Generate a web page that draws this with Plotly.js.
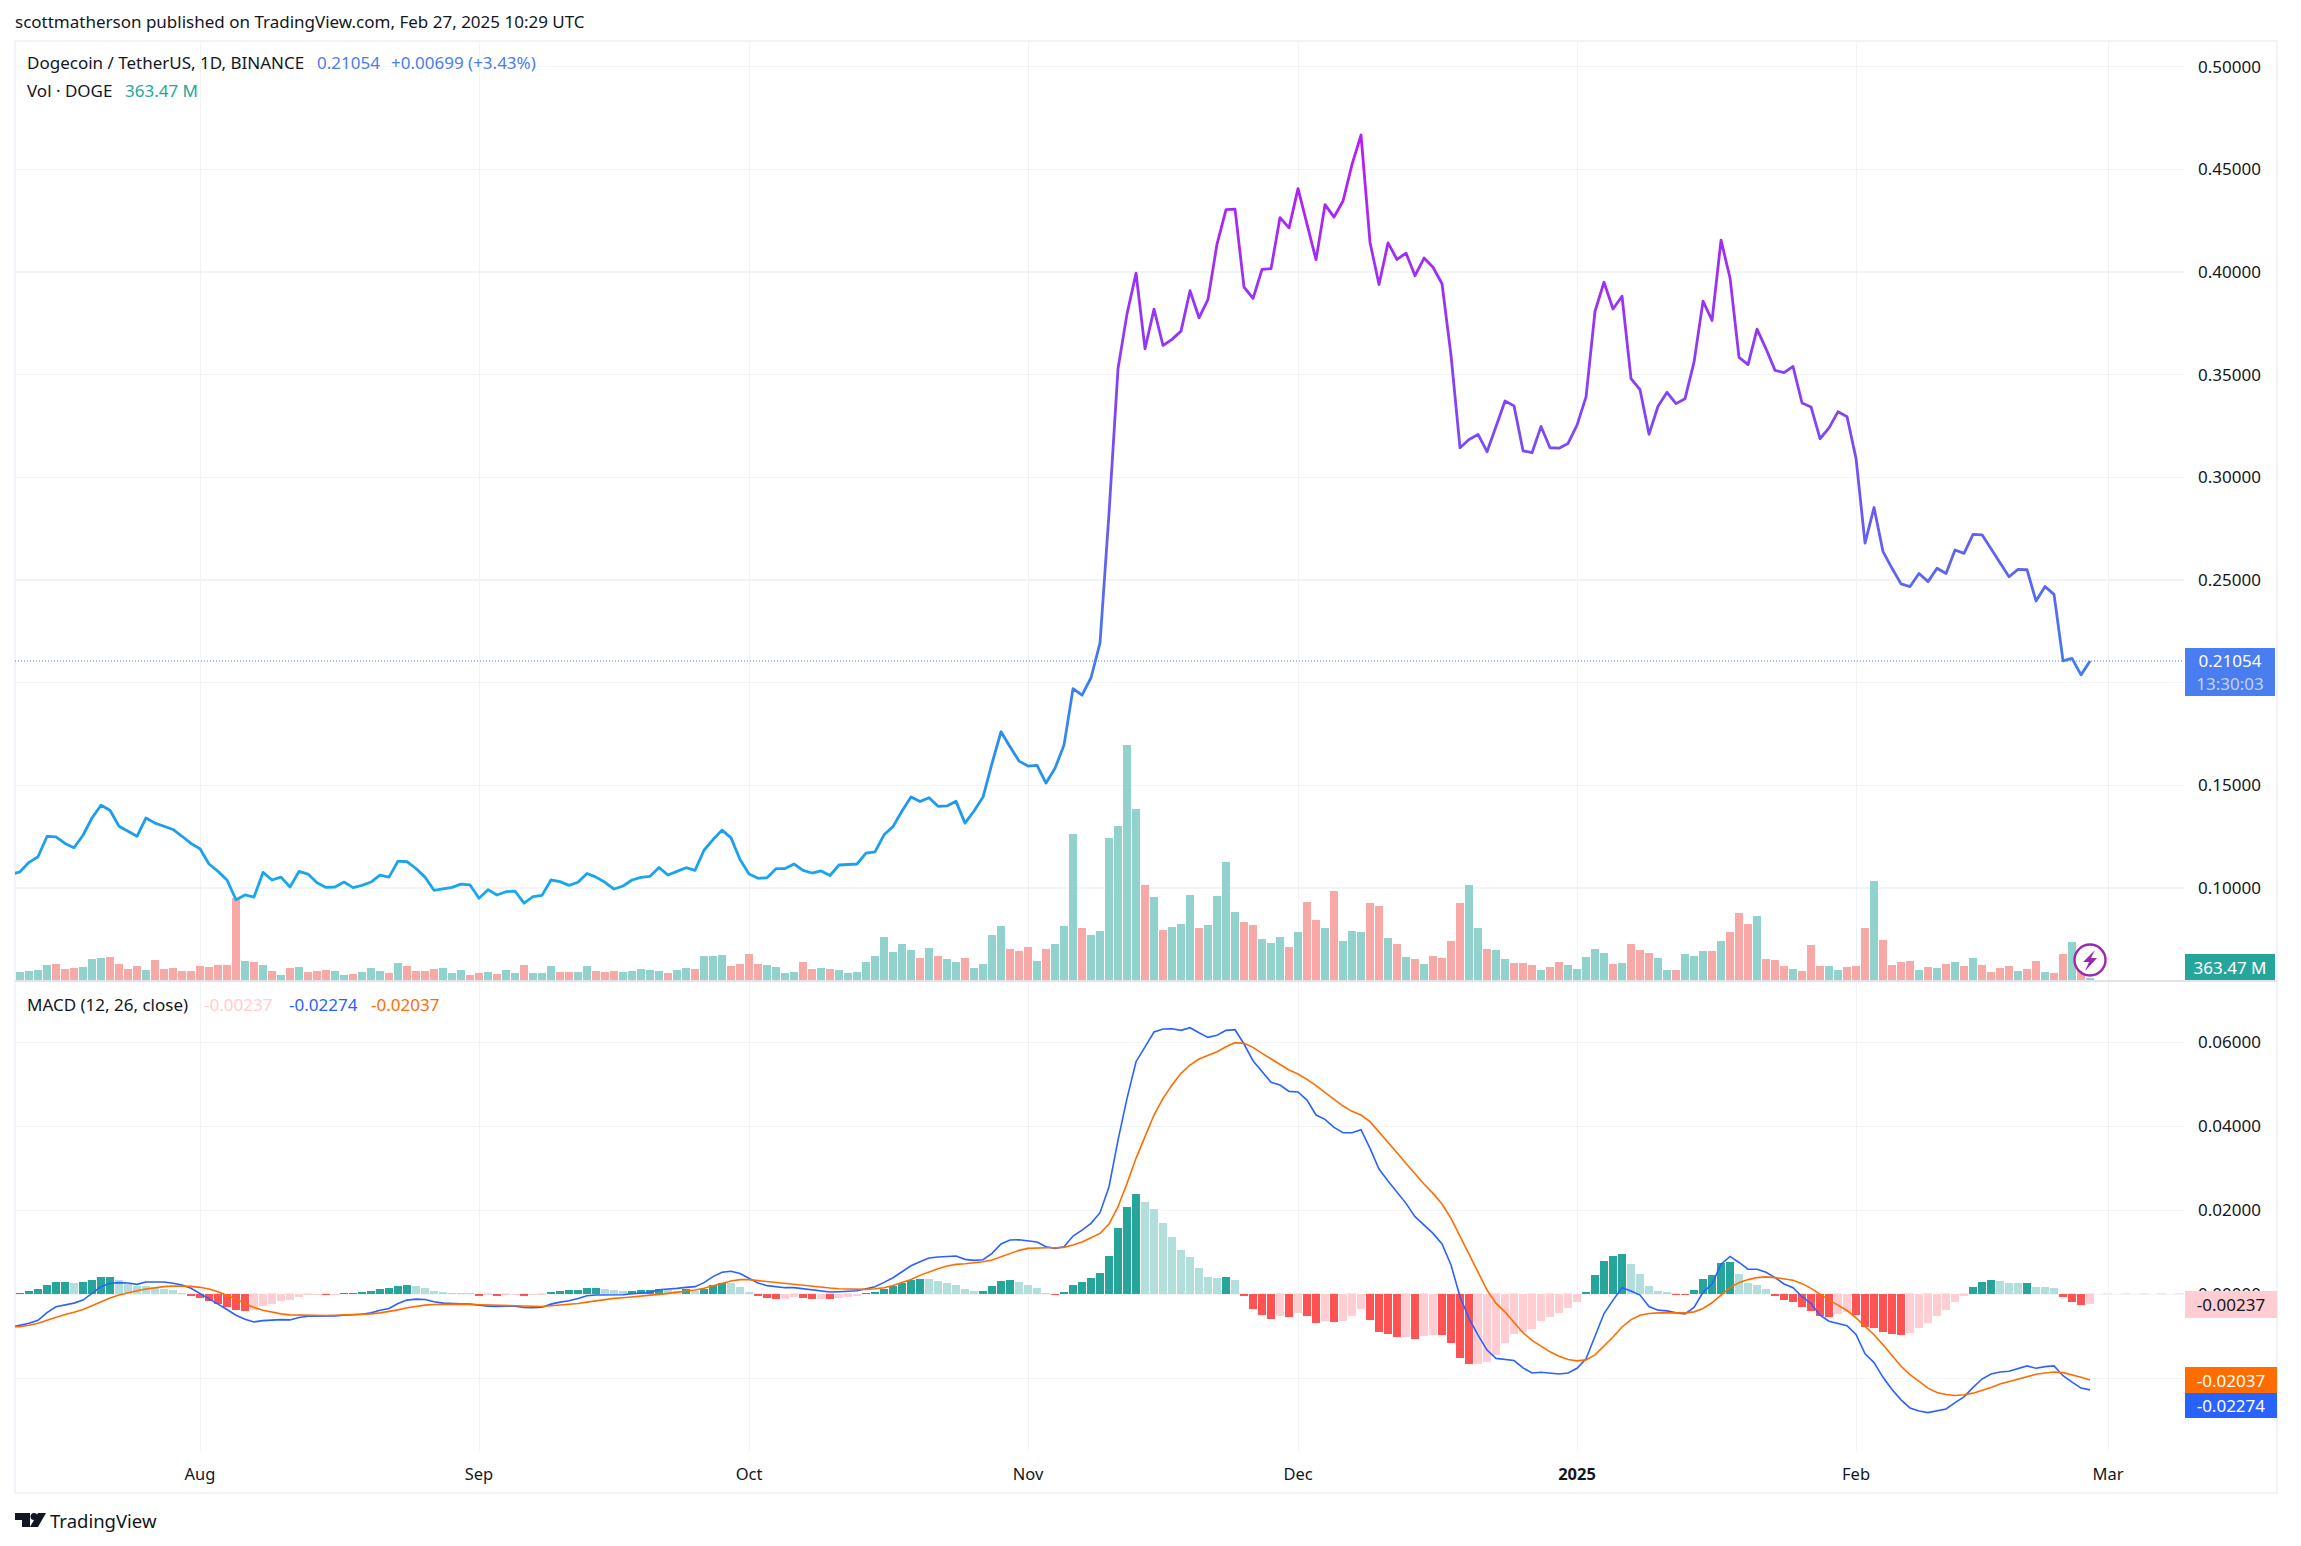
<!DOCTYPE html>
<html>
<head>
<meta charset="utf-8">
<script src="https://cdn.plot.ly/plotly-3.0.1.min.js"></script>
<style>
html, body { margin: 0; padding: 0; background: #fff; }
</style>
</head>
<body>
<div id="chart" style="width:2301px;height:1546px;"></div>
<script>
var W = 2301;
var H = 1546;
var firstDay = Date.UTC(2024, 6, 12);

// the day before the first bar only shows as the stub of each line at the left edge
var priorDay = '2024-07-11';
var priorClose = 0.1066;
var priorMacd = -784;
var priorSignal = -776;

// daily close, DOGE/USDT
var closes = [
0.1079,0.1125,0.1152,0.1251,0.1249,0.1217,0.1196,0.1257,0.1341,0.1403,
0.1379,0.1301,0.1278,0.1252,0.1341,0.1316,0.1301,0.1285,0.1252,0.1217,
0.1191,0.1117,0.1081,0.1039,0.0943,0.0966,0.0956,0.1076,0.1039,0.1053,
0.1005,0.1081,0.1068,0.1026,0.1003,0.1005,0.1029,0.1002,0.1013,0.1029,
0.1063,0.1053,0.1131,0.1128,0.1095,0.1053,0.0989,0.0997,0.1003,0.1019,
0.1015,0.0950,0.0992,0.0966,0.0982,0.0985,0.0926,0.0958,0.0964,0.1039,
0.1031,0.1013,0.1028,0.1071,0.1053,0.1028,0.0995,0.1010,0.1039,0.1052,
0.1057,0.1100,0.1063,0.1081,0.1099,0.1086,0.1184,0.1236,0.1282,0.1244,
0.1139,0.1068,0.1047,0.1050,0.1094,0.1095,0.1117,0.1086,0.1073,0.1083,
0.1061,0.1112,0.1115,0.1117,0.1170,0.1176,0.1259,0.1299,0.1375,0.1443,
0.1421,0.1440,0.1398,0.1400,0.1422,0.1316,0.1375,0.1443,0.1607,0.1761,
0.1688,0.1618,0.1594,0.1597,0.1511,0.1583,0.1696,0.1971,0.1939,0.2024,
0.2194,0.2825,0.3530,0.3796,0.3994,0.3626,0.3819,0.3642,0.3672,0.3712,
0.3909,0.3777,0.3867,0.4136,0.4304,0.4306,0.3926,0.3871,0.4013,0.4016,
0.4265,0.4215,0.4406,0.4233,0.4060,0.4328,0.4267,0.4346,0.4524,0.4667,
0.4144,0.3939,0.4142,0.4061,0.4092,0.3982,0.4068,0.4023,0.3943,0.3594,
0.3144,0.3184,0.3209,0.3125,0.3246,0.3372,0.3348,0.3129,0.3120,0.3248,
0.3144,0.3142,0.3165,0.3254,0.3392,0.3809,0.3950,0.3820,0.3882,0.3481,
0.3427,0.3210,0.3346,0.3414,0.3359,0.3383,0.3561,0.3858,0.3764,0.4155,
0.3971,0.3584,0.3549,0.3722,0.3626,0.3521,0.3510,0.3540,0.3362,0.3343,
0.3188,0.3241,0.3320,0.3295,0.3092,0.2680,0.2853,0.2638,0.2557,0.2481,
0.2468,0.2532,0.2492,0.2557,0.2532,0.2646,0.2630,0.2722,0.2720,0.2654,
0.2586,0.2516,0.2552,0.2550,0.2398,0.2468,0.2430,0.2106,0.2118,0.2038,
0.21054
];

// volume in millions of DOGE
var volumes = [
1200,1350,1500,2250,2400,1650,1800,1950,3150,3300,
3450,2400,1650,2100,1500,3000,1650,1800,1350,1350,
2100,1950,2250,2250,12250,2850,2700,2250,1350,750,
1800,1950,1200,1350,1500,1350,750,900,1200,1800,
1350,1050,2550,2100,1350,1350,1650,1800,1050,1500,
750,1050,1200,900,1500,1050,2250,1050,1050,2100,
1200,1200,1200,2100,1350,1200,1350,1200,1350,1650,
1500,1350,1050,1500,1800,1650,3600,3600,3750,2100,
2400,3900,2400,2250,1950,1050,1200,2700,1650,1800,
1650,1500,1050,1200,2700,3600,6450,4200,5400,4500,
3300,4800,3600,3150,2700,3300,1800,2400,6750,8100,
4650,4350,4950,2850,4650,5400,8100,21900,7800,6750,
7350,21300,23100,35250,25650,14250,12450,7500,7950,8400,
12750,7800,8250,12600,17700,10200,8700,8250,6150,5550,
6450,4950,7200,11700,9000,7800,13350,5850,7350,7200,
11550,11100,6300,5400,3450,3150,2400,3600,3300,5850,
11550,14250,7800,4650,4500,3150,2550,2550,2250,1500,
1950,2700,2250,1650,3450,4650,4050,2400,2550,5400,
4500,4050,3300,1500,1500,3900,3600,4350,4350,5850,
7200,10050,8400,9600,3150,3000,2100,1650,1350,5250,
2100,2100,1500,1950,2100,7800,14850,6000,2250,2700,
2850,1500,1950,1800,2400,2700,2100,3300,2250,1200,
1800,2100,1350,1650,2850,1200,1050,3900,5700,2500,
363
];

// MACD line, in 1e-5 units
var macdLine = [
-744,-688,-616,-432,-296,-248,-208,-136,24,184,
264,280,272,240,296,304,296,264,224,144,
24,-104,-232,-360,-496,-592,-656,-624,-608,-600,
-608,-552,-520,-520,-520,-512,-496,-488,-472,-440,
-376,-336,-216,-136,-112,-120,-176,-208,-224,-224,
-232,-264,-280,-288,-280,-280,-312,-320,-304,-232,
-184,-152,-96,-32,-16,-16,-24,-8,16,32,
48,112,120,144,168,184,280,424,528,552,
496,384,272,208,184,160,160,135,111,87,
56,64,71,87,135,183,286,397,540,683,
778,865,889,897,913,834,810,826,977,1199,
1294,1302,1278,1247,1135,1096,1135,1390,1532,1691,
1945,2565,3676,4669,5542,5899,6249,6320,6328,6288,
6352,6233,6122,6170,6288,6304,5963,5566,5304,5050,
4986,4835,4820,4629,4272,4169,3978,3851,3851,3922,
3478,2985,2700,2422,2168,1850,1660,1453,1199,699,
-56,-572,-969,-1326,-1524,-1552,-1576,-1752,-1872,-1856,
-1880,-1896,-1872,-1760,-1536,-1016,-456,-136,160,80,
-16,-288,-376,-392,-440,-464,-312,48,248,720,
904,760,600,600,528,400,248,160,-56,-216,
-496,-640,-696,-744,-952,-1416,-1624,-1976,-2264,-2512,
-2704,-2776,-2816,-2776,-2728,-2576,-2440,-2216,-2016,-1896,
-1848,-1832,-1760,-1704,-1760,-1720,-1704,-1936,-2088,-2232,
-2274
];

// signal line, in 1e-5 units
var signalLine = [
-768,-736,-688,-616,-544,-480,-424,-360,-272,-176,
-88,-16,40,88,128,160,184,200,200,192,
168,128,64,-16,-112,-216,-312,-376,-424,-464,
-488,-496,-496,-504,-504,-496,-488,-480,-480,-464,
-440,-408,-368,-320,-280,-256,-240,-232,-232,-232,
-240,-248,-256,-264,-272,-280,-280,-288,-288,-272,
-256,-240,-216,-184,-152,-120,-96,-80,-64,-48,
-24,0,24,48,72,104,144,200,264,320,
352,352,328,304,280,256,232,222,199,167,
151,135,127,119,119,135,159,214,278,357,
453,540,611,675,715,730,746,778,818,897,
977,1048,1096,1112,1112,1112,1120,1175,1247,1350,
1453,1675,2088,2644,3240,3756,4272,4669,4986,5264,
5463,5606,5701,5780,5899,5995,5979,5884,5741,5606,
5463,5344,5248,5121,4970,4812,4645,4486,4359,4272,
4113,3875,3637,3375,3120,2866,2628,2406,2152,1810,
1374,937,500,103,-214,-416,-672,-912,-1096,-1232,
-1368,-1472,-1552,-1584,-1560,-1440,-1240,-1016,-776,-600,
-496,-456,-440,-432,-440,-440,-416,-336,-200,-16,
160,280,352,400,416,400,376,336,256,144,
8,-136,-256,-384,-560,-752,-960,-1200,-1456,-1712,
-1912,-2080,-2232,-2336,-2384,-2408,-2392,-2352,-2288,-2216,
-2136,-2080,-2016,-1952,-1904,-1872,-1848,-1864,-1912,-1976,
-2037
];

// histogram, in 1e-5 units
var macdHist = [
32,80,128,224,296,304,272,296,344,408,
416,344,240,200,192,168,128,104,32,-40,
-88,-160,-232,-304,-376,-400,-376,-280,-232,-160,
-136,-64,-24,-16,-24,-16,32,40,48,72,
120,144,192,216,208,160,80,56,40,32,
24,-40,-24,-48,-24,-16,-40,-24,-16,64,
80,96,104,152,160,128,104,72,80,96,
104,128,96,80,128,80,128,224,272,264,
176,56,-48,-88,-120,-104,-72,-79,-111,-103,
-111,-87,-64,-40,32,56,127,199,270,341,
365,357,318,270,222,127,79,87,199,318,
341,294,222,151,32,-16,56,222,294,389,
508,913,1580,2080,2390,2199,2033,1699,1366,1056,
889,627,413,389,413,341,-40,-349,-492,-588,
-516,-540,-445,-516,-683,-635,-659,-635,-516,-349,
-611,-897,-945,-1016,-1008,-1064,-993,-969,-977,-1159,
-1517,-1659,-1652,-1612,-1445,-1168,-952,-904,-832,-640,
-544,-448,-328,-184,56,464,800,920,968,728,
488,200,80,56,-16,-24,104,368,464,752,
776,488,272,224,128,-40,-136,-184,-304,-400,
-520,-544,-472,-424,-496,-784,-808,-904,-952,-976,
-928,-808,-688,-520,-376,-184,-32,176,296,344,
320,272,264,272,176,168,152,-64,-184,-256,
-237
];

var priceTicks = [0.10, 0.15, 0.20, 0.25, 0.30, 0.35, 0.40, 0.45, 0.50];
var macdTicks = [0.06, 0.04, 0.02, 0, -0.02];
var macdTickText = ['0.06000', '0.04000', '0.02000', '0.00000', ''];
var monthTicks = ['2024-08-01', '2024-09-01', '2024-10-01', '2024-11-01', '2024-12-01', '2025-01-01', '2025-02-01', '2025-03-01'];
var monthLabels = ['Aug', 'Sep', 'Oct', 'Nov', 'Dec', '<b>2025</b>', 'Feb', 'Mar'];

var lastPrice = 0.21054;
var font = 'Noto Sans, sans-serif';
var textColor = '#131722';
var gridColor = '#f2f3f6';

function px(x) { return x / W; }
function py(y) { return 1 - y / H; }

var days = [];
for (var i = 0; i < closes.length; i++) {
    days.push(new Date(firstDay + i * 86400000).toISOString().slice(0, 10));
}
var lineDays = [priorDay].concat(days);

var volColors = closes.map(function (c, i) {
    return i == 0 || c >= closes[i - 1] ? '#92d2cc' : '#f7a9a7';
});
var histColors = macdHist.map(function (v, i) {
    var prev = i == 0 ? 0 : macdHist[i - 1];
    if (v >= 0) return v > prev ? '#26a69a' : '#b2dfdb';
    return v < prev ? '#ff5252' : '#ffcdd2';
});

function scaled(list) {
    return list.map(function (v) { return v / 100000; });
}

var barWidth = 86400000 * 0.89;
var traces = [
    { x: days, y: volumes, type: 'bar', xaxis: 'x2', yaxis: 'y', width: barWidth,
      marker: { color: volColors, line: { width: 0 } } },
    { x: lineDays, y: [priorClose].concat(closes), type: 'scatter', mode: 'lines', xaxis: 'x2', yaxis: 'y2',
      line: { color: '#5a68f0', width: 2.8 } },
    { x: days, y: scaled(macdHist), type: 'bar', xaxis: 'x', yaxis: 'y3', width: barWidth,
      marker: { color: histColors, line: { width: 0 } } },
    { x: lineDays, y: scaled([priorMacd].concat(macdLine)), type: 'scatter', mode: 'lines', xaxis: 'x', yaxis: 'y3',
      line: { color: '#2962ff', width: 1.6 } },
    { x: lineDays, y: scaled([priorSignal].concat(signalLine)), type: 'scatter', mode: 'lines', xaxis: 'x', yaxis: 'y3',
      line: { color: '#ff6d00', width: 1.6 } }
];

function label(text, x, y, color, size) {
    return { text: text, xref: 'paper', yref: 'paper', x: px(x), y: py(y), xanchor: 'left', yanchor: 'middle',
        showarrow: false, borderpad: 0, font: { family: font, size: size || 17, color: color || textColor } };
}

function box(text, y0, y1, right, bg, color) {
    return { text: text, xref: 'paper', yref: 'paper', x: px(2185), y: py(y0), xanchor: 'left', yanchor: 'top',
        width: right - 2185, height: y1 - y0, bgcolor: bg, showarrow: false, borderpad: 0, borderwidth: 0, align: 'center',
        font: { family: font, size: 17, color: color } };
}

function pathPx(points) {
    return 'M' + points.map(function (p) { return px(p[0]) + ' ' + py(p[1]); }).join('L') + 'Z';
}

var annotations = [
    label('scottmatherson published on TradingView.com, Feb 27, 2025 10:29 UTC', 14, 22),
    label('Dogecoin / TetherUS, 1D, BINANCE', 26, 63),
    label('0.21054', 316, 63, '#4a7def'),
    label('+0.00699 (+3.43%)', 390, 63, '#4a7def'),
    label('Vol · DOGE', 26, 90),
    label('363.47 M', 124, 90, '#26a69a'),
    label('MACD (12, 26, close)', 26, 1004),
    label('-0.00237', 203, 1004, '#ffcdd2'),
    label('-0.02274', 288, 1004, '#2962ff'),
    label('-0.02037', 370, 1004, '#ff6d00'),
    box('0.21054<br><span style="color:#c3d3f9">13:30:03</span>', 648, 696, 2275, '#4a7def', '#ffffff'),
    box('363.47 M', 954, 980, 2275, '#26a69a', '#ffffff'),
    box('-0.00237', 1291, 1318, 2277, '#ffcdd2', textColor),
    box('-0.02037', 1367, 1393, 2277, '#ff6d00', '#ffffff'),
    box('-0.02274', 1393, 1418, 2277, '#2962ff', '#ffffff'),
    label('TradingView', 49, 1520, textColor, 18.5)
];

var xRange = ['2024-07-11 10:40', '2025-03-09 10:34'];
var xDomain = [px(15), px(2184)];

var shapes = [
    // chart frame
    { type: 'rect', xref: 'paper', yref: 'paper', x0: px(15), x1: px(2277), y0: py(1493), y1: py(41),
      line: { color: '#f0f3fa', width: 2 }, layer: 'below' },
    // pane divider
    { type: 'line', xref: 'paper', yref: 'paper', x0: px(15), x1: px(2277), y0: py(981), y1: py(981),
      line: { color: '#e0e3eb', width: 2 } },
    // last price
    { type: 'line', xref: 'x2', yref: 'y2', x0: xRange[0], x1: xRange[1],
      y0: lastPrice, y1: lastPrice, line: { color: '#4a7def', width: 1, dash: '1px,2px' } },
    // macd zero
    { type: 'line', xref: 'x', yref: 'y3', x0: xRange[0], x1: xRange[1],
      y0: 0, y1: 0, layer: 'below', line: { color: '#a6a9b2', width: 1.4, dash: 'dash' } },
    // bolt badge
    { type: 'circle', xref: 'paper', yref: 'paper', x0: px(2074.5), x1: px(2105.5), y0: py(975.5), y1: py(944.5),
      fillcolor: '#ffffff', line: { color: '#9c27b0', width: 2.4 } },
    { type: 'path', xref: 'paper', yref: 'paper', fillcolor: '#9c27b0', line: { width: 0 },
      path: pathPx([[2095, 950], [2083, 962], [2089, 962], [2085, 971], [2097, 958], [2091, 958]]) },
    // logo
    { type: 'path', xref: 'paper', yref: 'paper', fillcolor: textColor, line: { width: 0 },
      path: pathPx([[15, 1513], [30, 1513], [30, 1527], [22, 1527], [22, 1520], [15, 1520]]) },
    { type: 'circle', xref: 'paper', yref: 'paper', x0: px(30.5), x1: px(37.5), y0: py(1520), y1: py(1513),
      fillcolor: textColor, line: { width: 0 } },
    { type: 'path', xref: 'paper', yref: 'paper', fillcolor: textColor, line: { width: 0 },
      path: pathPx([[38, 1513], [46, 1513], [38, 1527], [30, 1527]]) }
];

var layout = {
    width: W,
    height: H,
    margin: { l: 0, r: 0, t: 0, b: 0 },
    paper_bgcolor: '#ffffff',
    plot_bgcolor: 'rgba(0,0,0,0)',
    showlegend: false,
    hovermode: false,
    bargap: 0,
    annotations: annotations,
    shapes: shapes,
    // time axis under the macd pane
    xaxis: { type: 'date', domain: xDomain, range: xRange, anchor: 'y3', tickvals: monthTicks, ticktext: monthLabels,
        showgrid: true, gridcolor: gridColor, gridwidth: 1, zeroline: false, showline: false, ticks: '',
        ticklabelstandoff: 11, tickangle: 0, tickfont: { family: font, size: 16.5, color: textColor } },
    xaxis2: { type: 'date', domain: xDomain, range: xRange, anchor: 'y', tickvals: monthTicks,
        showticklabels: false, showgrid: true, gridcolor: gridColor, gridwidth: 1, zeroline: false, showline: false, ticks: '' },
    // volume
    yaxis: { domain: [py(980), py(41)], range: [0, 140850], anchor: 'x2', showgrid: false, zeroline: false,
        showticklabels: false, showline: false, ticks: '' },
    // price
    yaxis2: { domain: [py(980), py(41)], range: [0.0552, 0.5125], anchor: 'x2', overlaying: 'y', side: 'right',
        tickvals: priceTicks, tickformat: '.5f', showgrid: true, gridcolor: gridColor, gridwidth: 1.5, zeroline: false,
        showline: false, ticks: '', ticklabelstandoff: 13, tickfont: { family: font, size: 17, color: textColor } },
    // macd
    yaxis3: { domain: [py(1451), py(982)], range: [-0.0373, 0.0744], anchor: 'x', side: 'right',
        tickvals: macdTicks, ticktext: macdTickText, showgrid: true, gridcolor: gridColor, gridwidth: 1.5, zeroline: false,
        showline: false, ticks: '', ticklabelstandoff: 13, tickfont: { family: font, size: 17, color: textColor } }
};

Plotly.newPlot('chart', traces, layout, { displayModeBar: false, staticPlot: true }).then(function (gd) {
    // the price line runs from light blue at its low to purple at its high
    var line = gd.querySelector('.x2y2 .scatterlayer .js-line');
    var svg = gd.querySelector('.main-svg');
    var ns = 'http://www.w3.org/2000/svg';
    var grad = document.createElementNS(ns, 'linearGradient');
    grad.setAttribute('id', 'priceFade');
    grad.setAttribute('x1', '0');
    grad.setAttribute('y1', '1');
    grad.setAttribute('x2', '0');
    grad.setAttribute('y2', '0');
    [['0', '#18a9ee'], ['0.15', '#2196ee'], ['0.42', '#5a68f0'], ['0.69', '#8b3df5'], ['1', '#b81cf5']].forEach(function (s) {
        var stop = document.createElementNS(ns, 'stop');
        stop.setAttribute('offset', s[0]);
        stop.setAttribute('stop-color', s[1]);
        grad.appendChild(stop);
    });
    svg.querySelector('defs').appendChild(grad);
    if (line) {
        line.style.stroke = 'url(#priceFade)';
        line.style.strokeLinejoin = 'round';
    }
});
</script>
</body>
</html>
